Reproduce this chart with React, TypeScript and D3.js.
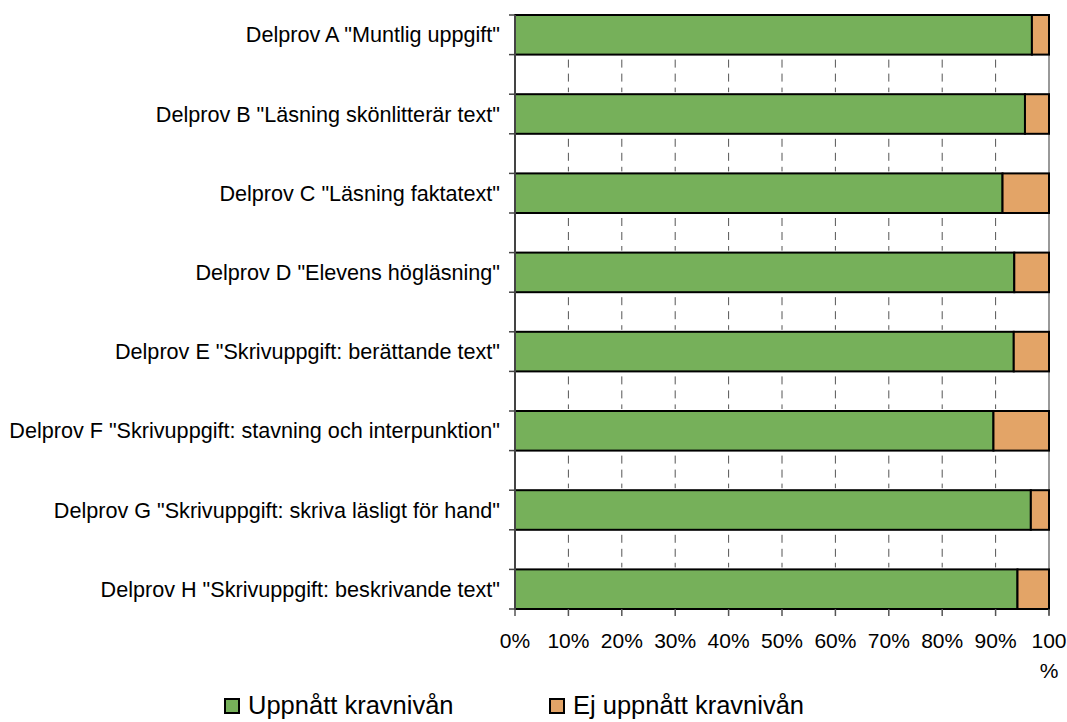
import React, { useEffect, useRef } from "react";
import * as d3 from "d3";

const categories = [
  'Delprov A "Muntlig uppgift"',
  'Delprov B "Läsning skönlitterär text"',
  'Delprov C "Läsning faktatext"',
  'Delprov D "Elevens högläsning"',
  'Delprov E "Skrivuppgift: berättande text"',
  'Delprov F "Skrivuppgift: stavning och interpunktion"',
  'Delprov G "Skrivuppgift: skriva läsligt för hand"',
  'Delprov H "Skrivuppgift: beskrivande text"',
];
const achieved = [96.8, 95.5, 91.3, 93.5, 93.4, 89.6, 96.6, 94.1];
const notAchieved = achieved.map((v) => 100 - v);
const xTicks = [0, 10, 20, 30, 40, 50, 60, 70, 80, 90, 100];
const seriesNames = ["Uppnått kravnivån", "Ej uppnått kravnivån"];
const colors = ["#76B05A", "#E3A467"];

const App = () => {
  const ref = useRef<SVGSVGElement>(null);

  useEffect(() => {
    const svg = d3.select(ref.current);
    svg.selectAll("*").remove();
    const font = "'Liberation Sans', Arial, sans-serif";

    const left = 515;
    const right = 1049;
    const top = 15;
    const bottom = 609;

    // 15 rows: bar, blank, bar, blank ...
    const rows = d3.range(15);
    const yRow = d3.scaleBand<number>().domain(rows).range([top, bottom]).padding(0);
    const x = d3.scaleLinear().domain([0, 100]).range([left, right]);

    const g = svg.append("g");

    // dashed gridlines only in blank rows
    rows
      .filter((r) => r % 2 === 1)
      .forEach((r) => {
        g.selectAll(null)
          .data(xTicks.slice(1, 10))
          .enter()
          .append("line")
          .attr("x1", (d) => x(d))
          .attr("x2", (d) => x(d))
          .attr("y1", yRow(r)! + 5)
          .attr("y2", yRow(r)! + yRow.bandwidth() - 2)
          .attr("stroke", "#555")
          .attr("stroke-width", 1)
          .attr("stroke-dasharray", "8,6");
      });

    // 100% line
    g.append("line")
      .attr("x1", x(100))
      .attr("x2", x(100))
      .attr("y1", top)
      .attr("y2", bottom + 6)
      .attr("stroke", "#999")
      .attr("stroke-width", 2);

    // bars
    const stacked = categories.map((c, i) => ({ c, i, a: achieved[i], n: notAchieved[i] }));
    const bars = g.selectAll(null).data(stacked).enter().append("g");
    bars
      .append("rect")
      .attr("x", x(0))
      .attr("y", (d) => yRow(d.i * 2)!)
      .attr("width", (d) => x(d.a) - x(0))
      .attr("height", yRow.bandwidth())
      .attr("fill", colors[0])
      .attr("stroke", "#000")
      .attr("stroke-width", 2);
    bars
      .append("rect")
      .attr("x", (d) => x(d.a))
      .attr("y", (d) => yRow(d.i * 2)!)
      .attr("width", (d) => x(d.a + d.n) - x(d.a))
      .attr("height", yRow.bandwidth())
      .attr("fill", colors[1])
      .attr("stroke", "#000")
      .attr("stroke-width", 2);

    // left axis
    const boundaries = d3.range(16).map((r) => (r < 15 ? yRow(r)! : bottom));
    g.append("line")
      .attr("x1", left)
      .attr("x2", left)
      .attr("y1", top)
      .attr("y2", bottom)
      .attr("stroke", "#444")
      .attr("stroke-width", 2);
    g.selectAll(null)
      .data(boundaries)
      .enter()
      .append("line")
      .attr("x1", left - 6)
      .attr("x2", left)
      .attr("y1", (d) => d)
      .attr("y2", (d) => d)
      .attr("stroke", "#444")
      .attr("stroke-width", 1.5);

    // category labels
    g.selectAll(null)
      .data(stacked)
      .enter()
      .append("text")
      .attr("x", 500)
      .attr("y", (d) => yRow(d.i * 2)! + yRow.bandwidth() / 2)
      .attr("dy", "0.35em")
      .attr("text-anchor", "end")
      .attr("font-family", font)
      .attr("font-size", 21.6)
      .attr("fill", "#000")
      .text((d) => d.c);

    // bottom ticks
    g.selectAll(null)
      .data(xTicks)
      .enter()
      .append("line")
      .attr("x1", (d) => x(d))
      .attr("x2", (d) => x(d))
      .attr("y1", bottom)
      .attr("y2", bottom + 7)
      .attr("stroke", "#555")
      .attr("stroke-width", 1.5);

    const labels = g
      .selectAll(null)
      .data(xTicks)
      .enter()
      .append("text")
      .attr("x", (d) => x(d))
      .attr("y", 648)
      .attr("text-anchor", "middle")
      .attr("font-family", font)
      .attr("font-size", 21)
      .attr("fill", "#000");
    labels.each(function (d) {
      const t = d3.select(this);
      if (d === 100) {
        t.append("tspan").attr("x", x(d)).text("100");
        t.append("tspan").attr("x", x(d)).attr("dy", 30).text("%");
      } else {
        t.text(`${d}%`);
      }
    });

    // legend
    const legendX = [225, 550];
    seriesNames.forEach((name, i) => {
      g.append("rect")
        .attr("x", legendX[i])
        .attr("y", 699)
        .attr("width", 14)
        .attr("height", 14)
        .attr("fill", colors[i])
        .attr("stroke", "#000")
        .attr("stroke-width", 2);
      g.append("text")
        .attr("x", legendX[i] + 23)
        .attr("y", 714)
        .attr("font-family", font)
        .attr("font-size", 25.5)
        .attr("fill", "#000")
        .text(name);
    });
  }, []);

  return (
    <svg
      ref={ref}
      width={1067}
      height={722}
      style={{ position: "absolute", left: 0, top: 0, background: "#fff" }}
    />
  );
};

export default App;
